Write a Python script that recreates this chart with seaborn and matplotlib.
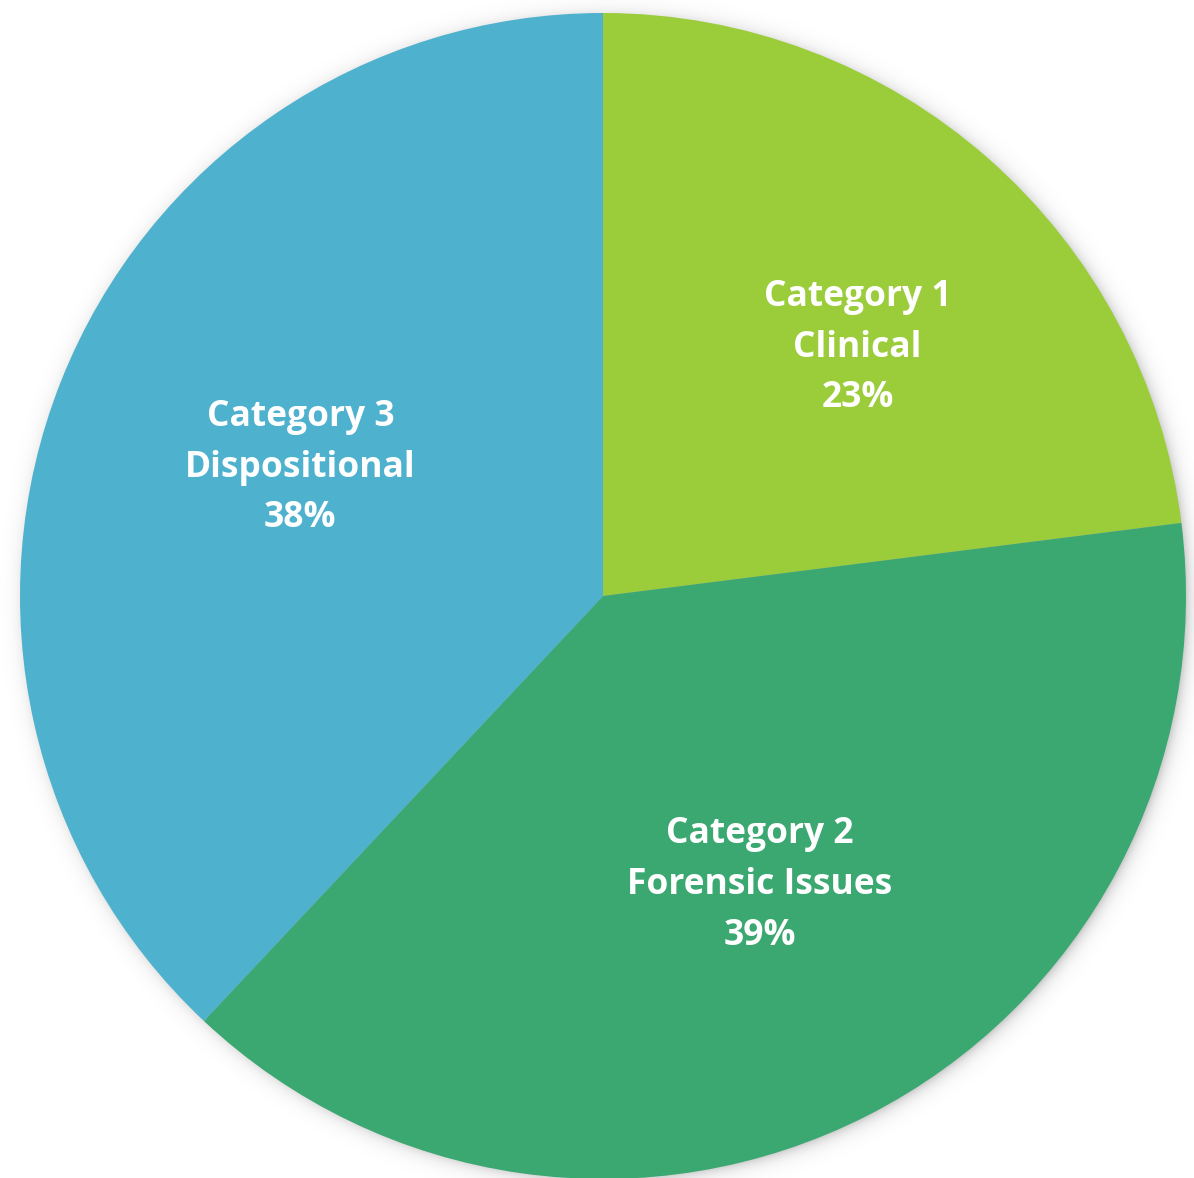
import numpy as np
import matplotlib
matplotlib.use("Agg")
import matplotlib.pyplot as plt
import seaborn as sns

sns.set_theme(style="white")
plt.rcParams["font.family"] = ["Open Sans", "DejaVu Sans"]

categories = ["Category 1", "Category 2", "Category 3"]
subtitles = ["Clinical", "Forensic Issues", "Dispositional"]
shares = [23, 39, 38]
colors = ["#9BCC3A", "#3AA870", "#4EB1CE"]

W, H = 1194, 1178
fig = plt.figure(figsize=(W / 100, H / 100), dpi=100)
ax = fig.add_axes([0, 0, 1, 1])

# soft drop shadow around the disc
scale = 583.0
cx, cy = 603.0, 596.0
x0, x1 = -cx / scale, (W - cx) / scale
y0, y1 = -(H - cy) / scale, cy / scale
gx = np.linspace(x0, x1, 600)
gy = np.linspace(y0, y1, 600)
GX, GY = np.meshgrid(gx, gy)
R = np.hypot(GX - 0.006, GY + 0.004)
alpha = np.where(R > 0.98, 0.32 * np.exp(-np.clip(R - 0.99, 0, None) / 0.012), 0.32)
shadow = np.zeros((600, 600, 4))
shadow[..., 3] = alpha
ax.imshow(shadow, extent=[x0, x1, y0, y1], origin="lower", zorder=0,
          interpolation="bilinear", aspect="auto")

labels = [f"{c}\n{s}\n{v}%" for c, s, v in zip(categories, subtitles, shares)]
wedges, texts = ax.pie(shares, colors=colors, startangle=90, counterclock=False,
                       labels=labels, labeldistance=0.575,
                       wedgeprops=dict(linewidth=0, zorder=2),
                       textprops=dict(color="white", fontsize=25.5, fontweight="bold",
                                      linespacing=1.55))

# label placement: radius and angular nudge from each wedge's midpoint
label_radius = [0.61, 0.564, 0.564]
angle_nudge = [-4.3, 1.5, -1.4]
for w, t, r, d in zip(wedges, texts, label_radius, angle_nudge):
    mid = np.deg2rad((w.theta1 + w.theta2) / 2 + d)
    t.set_position((r * np.cos(mid), r * np.sin(mid)))
    t.set_ha("center")
    t.set_va("center")
    t.set_zorder(3)

ax.set_xlim(x0, x1)
ax.set_ylim(y0, y1)
ax.set_aspect("auto")
ax.axis("off")

fig.savefig("out.png", dpi=100, facecolor="white")
